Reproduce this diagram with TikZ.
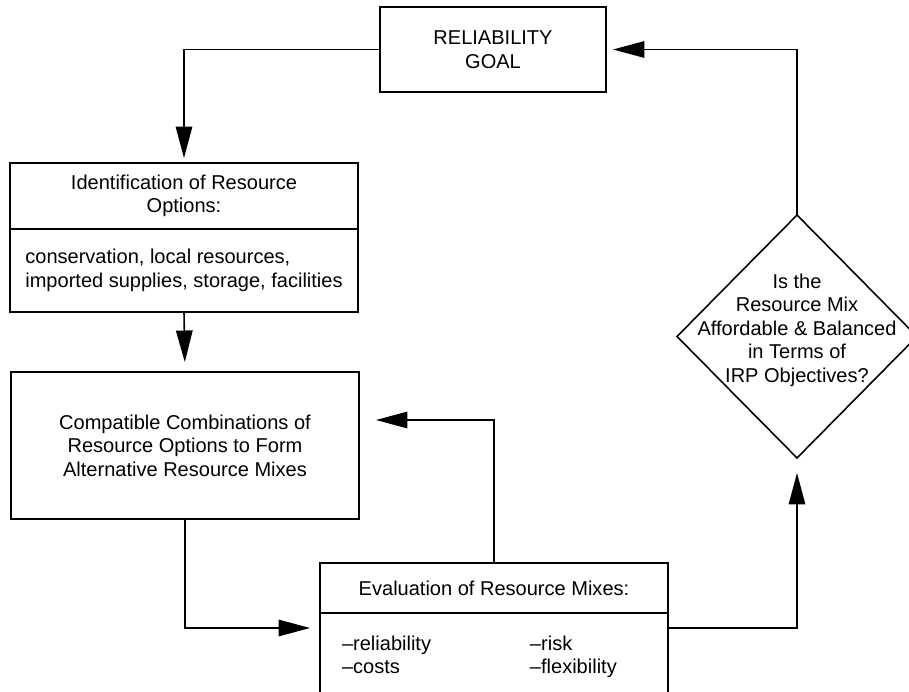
\documentclass[tikz,border=0pt]{standalone}
\usepackage{fontspec}
\setmainfont{Liberation Sans}
\usetikzlibrary{positioning}
\usetikzlibrary{arrows.meta}
\usetikzlibrary{shapes}
\tikzset{
        boxnode/.style={align=center,inner sep=0pt,outer sep=0pt,draw=black,line width=0.9pt,font=\fontsize{11.4}{13.4}\selectfont},
        % Wide boxes on the left and bottom
        node_box/.style={boxnode, rectangle, minimum width=6.96cm},
        % Goal box at the top
        node_goal/.style={boxnode, rectangle, minimum width=4.52cm, minimum height=1.7cm},
        % Decision diamond (empty, its text is set on top)
        node_decision/.style={boxnode, diamond, minimum width=4.8cm, minimum height=4.86cm},
        % Text only
        node_text/.style={align=center,inner sep=0pt,font=\fontsize{11.4}{13.4}\selectfont},
        % Flow lines
        edge_flow/.style={line width=0.9pt, -{Triangle[length=0.63cm,width=0.33cm]}}
}
\begin{document}
\begin{tikzpicture}[x=0.02cm, y=-0.02cm]
            \useasboundingbox (0,0) rectangle (909,692);
            \node[node_goal] (goal) at (493,49.5) {RELIABILITY\\GOAL};
            \node[node_box, minimum height=1.32cm] (identhead) at (184,196) {Identification of Resource\\Options:};
            \node[node_box, minimum height=1.66cm, align=left, below=0pt of identhead] (identbody) {conservation, local resources,\\imported supplies, storage, facilities};
            \node[node_box, minimum height=2.94cm] (compat) at (185,445.5) {Compatible Combinations of\\Resource Options to Form\\Alternative Resource Mixes};
            \node[node_box, minimum height=1cm] (evalhead) at (494,588) {Evaluation of Resource Mixes:};
            \node[node_box, minimum height=1.78cm, text width=6.08cm, align=left, inner xsep=0.44cm, below=0pt of evalhead] (evalbody) {%
                \begin{tabular}{@{}p{3.76cm}@{}l@{}}
                    \textendash reliability & \textendash risk\\
                    \textendash costs & \textendash flexibility
                \end{tabular}};
            \node[node_decision] (decide) at (797,336.5) {};
            \node[node_text] (decidetext) at (797,330) {Is the\\Resource Mix\\Affordable \& Balanced\\in Terms of\\IRP Objectives?};

            \draw[edge_flow, shorten >=0.1cm] (goal.west) -| (identhead.north);
            \draw[edge_flow, shorten >=0.2cm] (identbody.south) -- (compat.north);
            \draw[edge_flow, shorten >=0.2cm] (compat.south) |- ([yshift=0.59cm]evalbody.west);
            \draw[edge_flow, shorten >=0.34cm] (evalhead.north) |- ([yshift=0.51cm]compat.east);
            \draw[edge_flow, shorten >=0.3cm] ([yshift=0.59cm]evalbody.east) -| (decide.south);
            \draw[edge_flow, shorten >=0.14cm] (decide.north) |- (goal.east);
        \end{tikzpicture}
\end{document}
